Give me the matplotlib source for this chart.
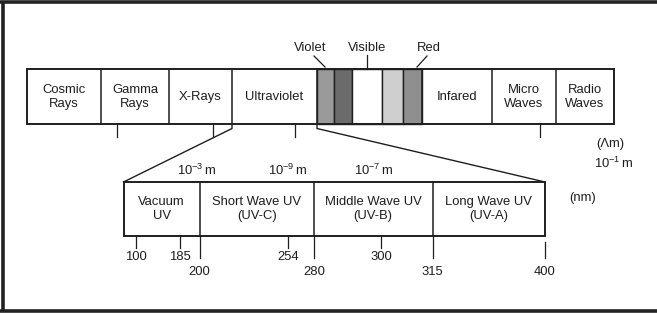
import matplotlib
matplotlib.use('Agg')
import matplotlib.pyplot as plt
from matplotlib.patches import Rectangle

plt.rcParams['font.family'] = ['Liberation Sans', 'DejaVu Sans']
plt.rcParams['mathtext.fontset'] = 'custom'
plt.rcParams['mathtext.rm'] = 'Liberation Sans'

# diagram is laid out in pixel units of the 657x313 canvas
W, H = 657, 313

# top spectrum band
band_labels = ['Cosmic\nRays', 'Gamma\nRays', 'X-Rays', 'Ultraviolet',
               None, 'Infared', 'Micro\nWaves', 'Radio\nWaves']
band_edges = [27, 101, 169, 232, 317, 422, 492, 556, 614]
band_top, band_bot = 69, 124

# visible strip inside the band (Violet -> Red)
vis_edges = [317, 334, 352, 382, 403, 422]
vis_colors = ['#9a9a9a', '#6b6b6b', '#ffffff', '#cfcfcf', '#8f8f8f']
vis_labels = ['Violet', 'Visible', 'Red']
vis_label_x = [310, 367, 429]
vis_leader = [((314, 56), (325, 67)), ((367, 55), (367, 69)),
              ((427, 56), (417, 67))]

top_ticks = [117, 213, 295, 540]

# UV breakdown band
uv_labels = ['Vacuum\nUV', 'Short Wave UV\n(UV-C)', 'Middle Wave UV\n(UV-B)',
             'Long Wave UV\n(UV-A)']
uv_edges = [123.5, 199.5, 314, 432.5, 545]
uv_top, uv_bot = 182, 236

nm_values = ['100', '185', '200', '254', '280', '300', '315', '400']
nm_x = [135.7, 180.3, 199.5, 287.7, 314, 381, 432.5, 545]
nm_long = [False, False, True, False, True, False, True, True]

scale_labels = [r'$\mathregular{10^{-3}\,m}$', r'$\mathregular{10^{-9}\,m}$',
                r'$\mathregular{10^{-7}\,m}$']
scale_x = [197, 288, 374]

fig = plt.figure(figsize=(W / 100, H / 100), dpi=100)
ax = fig.add_axes([0, 0, 1, 1])
ax.set_xlim(0, W)
ax.set_ylim(H, 0)
ax.axis('off')

ink = '#1e1e1e'
fs = 9.4

# frame (left, top, bottom)
ax.plot([2.5, 2.5], [1.5, 310.5], color='#222222', lw=2.6, solid_capstyle='butt')
ax.plot([0, W], [1.5, 1.5], color='#222222', lw=2.6)
ax.plot([0, W], [310.5, 310.5], color='#222222', lw=2.6)

# visible strip fills
for i, c in enumerate(vis_colors):
    ax.add_patch(Rectangle((vis_edges[i], band_top), vis_edges[i + 1] - vis_edges[i],
                           band_bot - band_top, fc=c, ec=ink, lw=1.0))

# top band outline and dividers
ax.add_patch(Rectangle((band_edges[0], band_top), band_edges[-1] - band_edges[0],
                       band_bot - band_top, fc='none', ec=ink, lw=1.4))
for x in band_edges[1:-1]:
    ax.plot([x, x], [band_top, band_bot], color=ink, lw=1.1)
for i, lab in enumerate(band_labels):
    if lab is None:
        continue
    cx = (band_edges[i] + band_edges[i + 1]) / 2
    ax.text(cx, 97, lab, ha='center', va='center', fontsize=fs,
            linespacing=1.17, color=ink)

for lab, x, (p0, p1) in zip(vis_labels, vis_label_x, vis_leader):
    ax.text(x, 48, lab, ha='center', va='center', fontsize=fs, color=ink)
    ax.plot([p0[0], p1[0]], [p0[1], p1[1]], color=ink, lw=0.9)

for x in top_ticks:
    ax.plot([x, x], [band_bot, 137], color=ink, lw=0.9)

# zoom connectors
ax.plot([232, 232, uv_edges[0]], [band_bot, 128.5, uv_top], color=ink, lw=1.0)
ax.plot([317, 317, uv_edges[-1]], [band_bot, 128.5, uv_top], color=ink, lw=1.0)

# UV band
ax.add_patch(Rectangle((uv_edges[0], uv_top), uv_edges[-1] - uv_edges[0],
                       uv_bot - uv_top, fc='white', ec=ink, lw=1.4))
for x in uv_edges[1:-1]:
    ax.plot([x, x], [uv_top, uv_bot], color=ink, lw=1.1)
for i, lab in enumerate(uv_labels):
    cx = (uv_edges[i] + uv_edges[i + 1]) / 2
    ax.text(cx, 209, lab, ha='center', va='center', fontsize=fs,
            linespacing=1.17, color=ink)

for lab, x, long_ in zip(nm_values, nm_x, nm_long):
    if long_:
        y0 = 241.5 if lab == '400' else uv_bot
        ax.plot([x, x], [y0, 258], color=ink, lw=0.9)
        ax.text(x, 272, lab, ha='center', va='center', fontsize=fs, color=ink)
    else:
        ax.plot([x, x], [uv_bot, 248], color=ink, lw=0.9)
        ax.text(x, 257.5, lab, ha='center', va='center', fontsize=fs, color=ink)

for lab, x in zip(scale_labels, scale_x):
    ax.text(x, 170, lab, ha='center', va='center', fontsize=fs, color=ink)

ax.text(610, 143.5, '(\u039bm)', ha='center', va='center', fontsize=fs, color=ink)
ax.text(614, 163, r'$\mathregular{10^{-1}\,m}$', ha='center', va='center',
        fontsize=fs, color=ink)
ax.text(583, 197.5, '(nm)', ha='center', va='center', fontsize=fs, color=ink)

fig.savefig('out.png', dpi=100)
